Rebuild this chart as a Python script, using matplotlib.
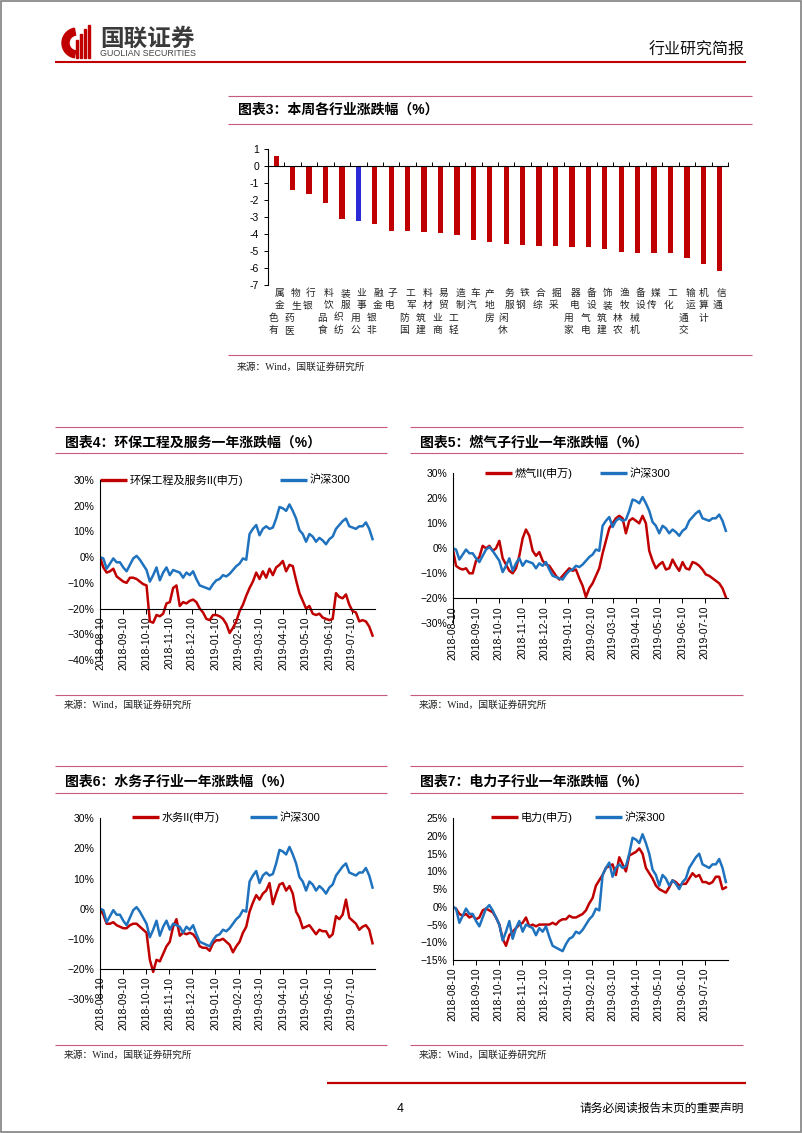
import numpy as np
import pandas as pd
import matplotlib
matplotlib.use("Agg")
import matplotlib.pyplot as plt
import matplotlib.dates as mdates
from matplotlib.patches import Wedge, Rectangle
from matplotlib.ticker import FuncFormatter

plt.rcParams['font.family'] = ['Liberation Sans', 'Noto Sans CJK SC']
plt.rcParams['axes.unicode_minus'] = False

W, H = 802, 1133
RED = '#C00000'
BLUE = '#1F72BE'
PINK = '#C85A7C'

# ---- chart 3: weekly change by industry (%)
industries = ["有色金属", "医药生物", "银行", "食品饮料", "纺织服装", "公用事业", "非银金融",
              "电子", "国防军工", "建筑材料", "商业贸易", "轻工制造", "汽车", "房地产",
              "休闲服务", "钢铁", "综合", "采掘", "家用电器", "电气设备", "建筑装饰",
              "农林牧渔", "机械设备", "传媒", "化工", "交通运输", "计算机", "通信"]
weekly_chg = [0.6, -1.42, -1.64, -2.18, -3.12, -3.22, -3.42, -3.84, -3.86, -3.9, -3.96,
              -4.1, -4.36, -4.48, -4.6, -4.66, -4.7, -4.72, -4.78, -4.8, -4.9, -5.08,
              -5.12, -5.16, -5.16, -5.44, -5.78, -6.18]
highlight = "公用事业"

# ---- one-year curves (%), sampled on a common date grid
hs300 = [0, -0.5, -4.5, -2.5, -0.5, -2, -2, -4, -5.5, -3, -0.5, 0.5, -1, -3, -5, -9.5,
         -7, -4, -9, -6, -4, -7, -5, -5.5, -6, -8, -6, -7, -5.5, -8.5, -11, -11.5, -12,
         -12.5, -10.5, -9, -8.5, -7, -7.5, -6.5, -5, -3.5, -2.5, -0.5, -1, 9, 11, 12.5,
         8.5, 11, 12, 11, 11.5, 15, 19.5, 19, 18, 20.5, 18, 15, 10.5, 9, 6, 9, 8, 6, 7.5,
         6.5, 5, 7, 8, 11, 12.5, 14, 15, 12, 11.5, 11, 12, 12, 13.5, 11, 7]
env_prot = [0, -4, -6, -5.5, -4.5, -7.5, -8.5, -9.5, -10, -8, -8, -8.5, -9.5, -10.5, -11,
            -25, -25.5, -22.5, -23, -22, -18, -17.5, -12, -11, -19, -17.5, -18, -17,
            -16.5, -17.5, -20, -21.5, -24, -24.5, -22.5, -22.5, -23, -24, -26, -29.5,
            -27.5, -25, -21, -18.5, -15, -12, -9.5, -6, -8.5, -5.5, -8, -4.5, -7, -4, -3,
            -1.5, -5.5, -3, -3.5, -9, -14, -17, -20, -19, -22, -22.5, -22, -23.5, -24,
            -24.5, -24, -14, -15.5, -16, -14.5, -18.5, -21, -21.5, -25, -24.5, -25, -27,
            -30.5]
gas = [0, -7, -8, -8.5, -8, -10, -10, -5, -3.5, 1, 0, 1, -1, 0, 3, -4, -6.5, -9, -10, -8,
       -3, 4, 7.5, 5, -1, -3, -1.5, -5, -6.5, -7, -9, -11, -12.5, -11, -9.5, -8, -9, -8.5,
       -12, -15, -19.5, -16, -14, -11, -8, -2, 3, 8, 10, 12, 13, 12, 6, 11, 12, 11, 10,
       13, 10, -1, -5, -8, -6.5, -5.5, -8.5, -8, -4.5, -7, -9, -5.5, -8, -8.5, -5.5, -6,
       -7, -8.5, -10.5, -11, -12, -13, -14, -16, -19.5]
water = [0, -2, -5, -5, -4.5, -5.5, -6, -6.5, -6.5, -5.5, -5, -5, -6, -7, -8, -17, -21,
         -17, -17.5, -15, -12.5, -11, -6, -3.5, -9, -8, -8.5, -8, -8.5, -10, -12.5, -13,
         -13, -14, -11.5, -10.5, -10.5, -10, -11, -12, -14.5, -12.5, -11, -8, -6, -1, 2,
         4.5, 3, 5, 6, 8.5, 1.5, 5, 8, 8.5, 6, 7.5, 5, -1, -3, -6.5, -6, -5.5, -7, -8.5,
         -7, -7.5, -7.5, -9.5, -8.5, -2.5, -3.5, -2, 3, -3, -4, -5, -7, -6, -5.5, -7,
         -11.5]
power = [0, -0.5, -2, -2.5, -2, -3, -2.5, -3.5, -3, -1, -0.5, -1, -1.5, -3, -5, -9, -11,
         -8, -7, -6, -5, -4.5, -3, -5.5, -5, -5.5, -5, -5, -5, -5, -4.5, -5, -4, -3.5,
         -3.5, -2.5, -3, -3, -2.5, -2, -1, 1, 2.5, 6, 7.5, 9, 11, 11.5, 12, 9, 14, 12, 10,
         14.5, 15, 15.5, 16.5, 15, 11, 9.5, 8, 6, 5, 4.5, 4, 5.5, 7.5, 7, 6, 6.5, 6.5, 8,
         9.5, 8.5, 9, 7, 7, 6.5, 7, 8.5, 8.5, 5, 5.5]

dates = pd.date_range("2018-08-10", "2019-08-06 18:00", periods=len(hs300))
month_ticks = pd.date_range("2018-08-10", periods=12, freq=pd.DateOffset(months=1))


def box(x0, y0, x1, y1):
    return [x0 / W, 1 - y1 / H, (x1 - x0) / W, (y1 - y0) / H]


fig = plt.figure(figsize=(W / 100, H / 100), dpi=100)
ov = fig.add_axes([0, 0, 1, 1], zorder=0)
ov.set_xlim(0, W)
ov.set_ylim(H, 0)
ov.axis('off')


def hline(y, x0, x1, color=PINK, lw=0.8):
    ov.plot([x0, x1], [y, y], color=color, lw=lw, solid_capstyle='butt')


# page frame
ov.add_patch(Rectangle((0.5, 0.5), W - 1.5, H - 1.5, fill=False, ec='#808080', lw=1.2))

# header / logo
ov.add_patch(Wedge((77, 43), 15, 100, 260, width=7, color=RED))
for bx, top in zip([76, 80, 84, 88], [40, 34, 29, 25]):
    ov.add_patch(Rectangle((bx, top), 2.2, 58 - top, color=RED))
ov.text(100, 39, "国联证券", fontsize=17, fontweight='bold', color='#3A3A3A', va='center')
ov.text(100, 53, "GUOLIAN SECURITIES", fontsize=6.4, color='#444444', va='center')
ov.text(745, 50, "行业研究简报", fontsize=11.5, ha='right', va='center', color='#111111')
hline(62, 55, 746, color=RED, lw=1.5)

# footer
hline(1083, 327, 746, color=RED, lw=1.6)
ov.text(400, 1109, "4", fontsize=9, ha='center', va='center')
ov.text(744, 1109, "请务必阅读报告末页的重要声明", fontsize=8.5, ha='right', va='center')


def section(x0, x1, y_top, y_title, y_under, y_bot, y_src, title):
    hline(y_top, x0, x1)
    hline(y_under, x0, x1)
    hline(y_bot, x0, x1)
    ov.text(x0 + 10, y_title, title, fontsize=10, fontweight='bold', va='center')
    ov.text(x0 + 9, y_src, "来源：Wind，国联证券研究所", fontsize=7, va='center',
            family=['Liberation Serif', 'Noto Sans CJK SC'], color='#222222')


# ---- chart 3
section(228, 752, 96, 110, 124, 355, 367, "图表3：本周各行业涨跌幅（%）")
ax3 = fig.add_axes(box(268, 149.3, 728, 284.5))
xpos = np.arange(len(industries))
colors = ['#2B2BD6' if n == highlight else RED for n in industries]
ax3.bar(xpos, weekly_chg, width=0.32, color=colors)
ax3.set_xlim(-0.5, len(industries) - 0.5)
ax3.set_ylim(-7, 1)
ax3.set_yticks(range(-7, 2))
for s in ['top', 'right']:
    ax3.spines[s].set_visible(False)
ax3.spines['bottom'].set_position(('data', 0))
ax3.set_xticks([])
ax3.set_xticks(np.arange(-0.5, len(industries), 1), minor=True)
ax3.tick_params(axis='x', which='minor', direction='in', length=3, width=0.7)
ax3.tick_params(axis='y', direction='out', length=3, width=0.7, labelsize=7.5)
ax3.patch.set_alpha(0)

# stacked category labels, drawn char by char
for i, name in enumerate(industries):
    cx = 268 + (i + 0.5) * 460 / len(industries)
    n = len(name)
    for k, ch in enumerate(reversed(name)):
        if n == 4:
            dx = 3.2 if k < 2 else -3.2
        elif n == 2:
            dx = 1.5 if k == 0 else -2
        else:
            dx = 0
        ov.text(cx + dx, 293 + k * 12.3, ch, fontsize=7, ha='center', va='center',
                color='#222222')


# ---- line charts
def pct_fmt(v, pos):
    s = f"{int(round(v))}%"
    return s.replace('-', '\u2212')


def line_panel(rect, series, ylim, step, cross):
    ax = fig.add_axes(rect)
    ax.plot(dates, series, color=RED, lw=1.8)
    ax.plot(dates, hs300, color=BLUE, lw=1.8)
    ax.set_xlim(pd.Timestamp("2018-08-10"), pd.Timestamp("2019-08-10"))
    ax.set_ylim(*ylim)
    ax.set_yticks(np.arange(ylim[0], ylim[1] + 0.1, step))
    ax.yaxis.set_major_formatter(FuncFormatter(pct_fmt))
    ax.set_xticks(month_ticks)
    ax.xaxis.set_major_formatter(mdates.DateFormatter('%Y-%m-%d'))
    for s in ['top', 'right']:
        ax.spines[s].set_visible(False)
    ax.spines['bottom'].set_position(('data', cross))
    ax.tick_params(axis='x', direction='out', length=3.5, width=0.7, labelsize=7.5,
                   labelrotation=90, pad=2)
    ax.tick_params(axis='y', length=0, labelsize=7.5, pad=4)
    ax.patch.set_alpha(0)
    return ax


def legend(y, red_x, red_label, blue_x):
    ov.plot([red_x, red_x + 27], [y, y], color=RED, lw=2.4, solid_capstyle='butt')
    ov.text(red_x + 30, y, red_label, fontsize=8, va='center')
    ov.plot([blue_x, blue_x + 27], [y, y], color=BLUE, lw=2.4, solid_capstyle='butt')
    ov.text(blue_x + 30, y, "沪深300", fontsize=8, va='center')


section(55, 387, 427, 443, 453, 695, 705, "图表4：环保工程及服务一年涨跌幅（%）")
line_panel(box(100, 480, 375, 660), env_prot, (-40, 30), 10, -20)
legend(480, 100, "环保工程及服务II(申万)", 280)

section(410, 743, 427, 443, 453, 695, 705, "图表5：燃气子行业一年涨跌幅（%）")
line_panel(box(452.7, 473.3, 728.3, 623.3), gas, (-30, 30), 10, -20)
legend(473.3, 485, "燃气II(申万)", 600)

section(55, 387, 766, 782, 793, 1045, 1055, "图表6：水务子行业一年涨跌幅（%）")
line_panel(box(100, 818.3, 375, 999), water, (-30, 30), 10, -20)
legend(817.3, 131.7, "水务II(申万)", 250)

section(410, 743, 766, 782, 793, 1045, 1055, "图表7：电力子行业一年涨跌幅（%）")
line_panel(box(452.7, 818.3, 728.3, 960), power, (-15, 25), 5, -15)
legend(817.3, 490.7, "电力(申万)", 595)

fig.savefig("out.png", dpi=100)
